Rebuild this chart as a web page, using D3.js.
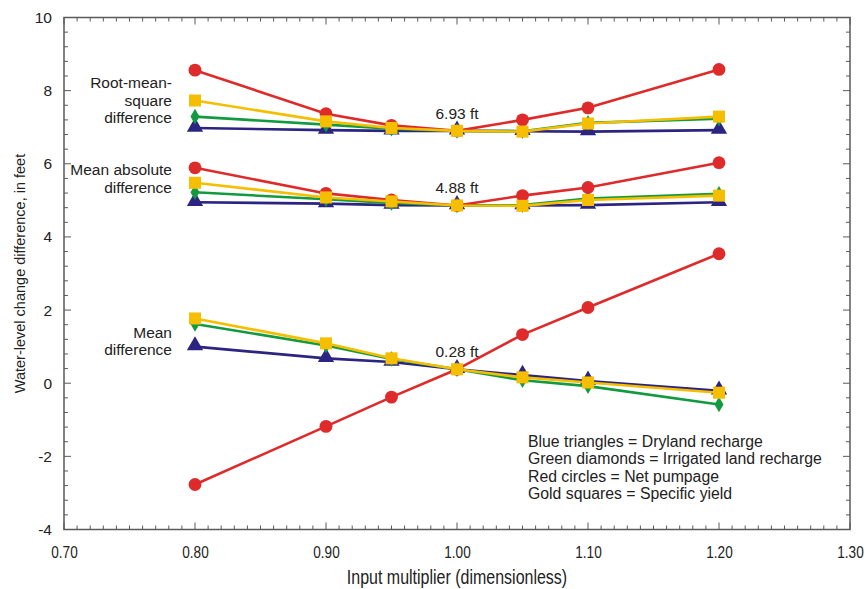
<!DOCTYPE html>
<html>
<head>
<meta charset="utf-8">
<script src="https://cdn.jsdelivr.net/npm/d3@7"></script>
<style>
	body{margin:0;background:#fff;}
	svg{display:block;font-family:"Liberation Sans", Arial, sans-serif;}
</style>
</head>
<body>
<svg id="chart" width="866" height="589"></svg>
<script>
//input multipliers (x values)
var multipliers = [0.80, 0.90, 0.95, 1.00, 1.05, 1.10, 1.20];

//root-mean-square difference
var rmsDryland   = [6.98, 6.92, 6.90, 6.90, 6.89, 6.88, 6.92];
var rmsIrrigated = [7.29, 7.07, 6.96, 6.90, 6.89, 7.12, 7.23];
var rmsPumpage   = [8.56, 7.37, 7.05, 6.90, 7.20, 7.53, 8.58];
var rmsYield     = [7.73, 7.16, 6.98, 6.90, 6.88, 7.10, 7.29];

//mean absolute difference
var madDryland   = [4.95, 4.91, 4.87, 4.86, 4.86, 4.87, 4.95];
var madIrrigated = [5.22, 5.03, 4.93, 4.86, 4.87, 5.05, 5.18];
var madPumpage   = [5.89, 5.19, 5.01, 4.86, 5.13, 5.35, 6.03];
var madYield     = [5.48, 5.08, 4.97, 4.86, 4.85, 5.01, 5.13];

//mean difference
var meanDryland   = [1.00, 0.68, 0.58, 0.38, 0.22, 0.06, -0.21];
var meanIrrigated = [1.62, 1.03, 0.66, 0.38, 0.08, -0.08, -0.58];
var meanPumpage   = [-2.77, -1.18, -0.38, 0.38, 1.33, 2.07, 3.54];
var meanYield     = [1.77, 1.09, 0.68, 0.38, 0.16, 0.02, -0.26];

var xTicks = [0.70, 0.80, 0.90, 1.00, 1.10, 1.20, 1.30];
var yTicks = [-4, -2, 0, 2, 4, 6, 8, 10];

var legendLines = [
	"Blue triangles = Dryland recharge",
	"Green diamonds = Irrigated land recharge",
	"Red circles = Net pumpage",
	"Gold squares = Specific yield"
];

var groupLabels = [
	{lines: ["Root-mean-", "square", "difference"], y: 8.06, value: "6.93 ft", at: 6.90},
	{lines: ["Mean absolute", "difference"], y: 5.68, value: "4.88 ft", at: 4.86},
	{lines: ["Mean", "difference"], y: 1.25, value: "0.28 ft", at: 0.38}
];

var svg = d3.select("#chart");

//"top" is taken by window.top, so prefix these
var plotLeft = 64, plotTop = 17.5, plotRight = 850, plotBottom = 529.5;

var xScale = d3.scaleLinear()
.domain([0.70, 1.30])
.range([plotLeft, plotRight]);

var yScale = d3.scaleLinear()
.domain([-4, 10])
.range([plotBottom, plotTop]);

var frameColor = "#5a5a5a";

//minor + major ticks, drawn inward on all four sides
var xMinor = d3.range(70, 131).map(function(d){ return d / 100; });
var yMinor = d3.range(-10, 26).map(function(d){ return d * 0.4; });

var ticks = svg.append("g")
.attr("stroke", frameColor)
.attr("stroke-width", 1);

ticks.selectAll(".xb")
.data(xMinor)
.enter()
.append("line")
.attr("x1", function(d){ return xScale(d); })
.attr("x2", function(d){ return xScale(d); })
.attr("y1", plotBottom)
.attr("y2", function(d, i){ return plotBottom - (i % 10 === 0 ? 7 : 4); });

ticks.selectAll(".xt")
.data(xMinor)
.enter()
.append("line")
.attr("x1", function(d){ return xScale(d); })
.attr("x2", function(d){ return xScale(d); })
.attr("y1", plotTop)
.attr("y2", function(d, i){ return plotTop + (i % 10 === 0 ? 7 : 4); });

ticks.selectAll(".yl")
.data(yMinor)
.enter()
.append("line")
.attr("y1", function(d){ return yScale(d); })
.attr("y2", function(d){ return yScale(d); })
.attr("x1", plotLeft)
.attr("x2", function(d, i){ return plotLeft + (i % 5 === 0 ? 7 : 4); });

ticks.selectAll(".yr")
.data(yMinor)
.enter()
.append("line")
.attr("y1", function(d){ return yScale(d); })
.attr("y2", function(d){ return yScale(d); })
.attr("x1", plotRight)
.attr("x2", function(d, i){ return plotRight - (i % 5 === 0 ? 7 : 4); });

//frame
svg.append("rect")
.attr("x", plotLeft)
.attr("y", plotTop)
.attr("width", plotRight - plotLeft)
.attr("height", plotBottom - plotTop)
.attr("fill", "none")
.attr("stroke", frameColor)
.attr("stroke-width", 1.5);

//tick labels through d3 axes, tick lines hidden
var xAxis = d3.axisBottom(xScale)
.tickValues(xTicks)
.tickSize(0)
.tickPadding(0)
.tickFormat(d3.format(".2f"));

var xAxisG = svg.append("g")
.attr("transform", "translate(0," + plotBottom + ")")
.call(xAxis);
xAxisG.select(".domain").remove();
//the original labels are condensed, squeeze them horizontally
xAxisG.selectAll("text")
.attr("dy", null)
.attr("y", 0)
.attr("transform", "translate(0,28) scale(0.8,1)")
.attr("font-size", 17)
.attr("font-family", "Liberation Sans, Arial, sans-serif")
.attr("fill", "#222");

var yAxis = d3.axisLeft(yScale)
.tickValues(yTicks)
.tickSize(0)
.tickPadding(12)
.tickFormat(function(d){ return String(d); }); //plain hyphen like the original

var yAxisG = svg.append("g")
.attr("transform", "translate(" + plotLeft + ",0)")
.call(yAxis);
yAxisG.select(".domain").remove();
yAxisG.selectAll("text")
.attr("font-size", 15.5)
.attr("fill", "#222")
.attr("font-family", "Liberation Sans, Arial, sans-serif");

//axis titles
svg.append("text")
.attr("transform", "translate(" + (plotLeft + plotRight) / 2 + ",584) scale(0.82,1)")
.attr("text-anchor", "middle")
.attr("font-size", 19.5)
.attr("fill", "#222")
.text("Input multiplier (dimensionless)");

svg.append("text")
.attr("transform", "translate(25," + (plotTop + plotBottom) / 2 + ") rotate(-90)")
.attr("text-anchor", "middle")
.attr("font-size", 14.5)
.attr("fill", "#222")
.text("Water-level change difference, in feet");

//series styling
var blue = "#2b2481", green = "#119a3f", red = "#de2a2a", gold = "#f5be00";

var seriesList = [
	{values: rmsDryland, color: blue, shape: d3.symbolTriangle, size: 115},
	{values: rmsIrrigated, color: green, shape: d3.symbolDiamond, size: 70},
	{values: rmsPumpage, color: red, shape: d3.symbolCircle, size: 130},
	{values: rmsYield, color: gold, shape: d3.symbolSquare, size: 145},
	{values: madDryland, color: blue, shape: d3.symbolTriangle, size: 115},
	{values: madIrrigated, color: green, shape: d3.symbolDiamond, size: 70},
	{values: madPumpage, color: red, shape: d3.symbolCircle, size: 130},
	{values: madYield, color: gold, shape: d3.symbolSquare, size: 145},
	{values: meanDryland, color: blue, shape: d3.symbolTriangle, size: 115},
	{values: meanIrrigated, color: green, shape: d3.symbolDiamond, size: 70},
	{values: meanPumpage, color: red, shape: d3.symbolCircle, size: 130},
	{values: meanYield, color: gold, shape: d3.symbolSquare, size: 145}
];

var line = d3.line()
.x(function(d){ return xScale(d[0]); })
.y(function(d){ return yScale(d[1]); });

seriesList.forEach(function(s){
	var pts = multipliers.map(function(m, i){ return [m, s.values[i]]; });

	svg.append("path")
	.datum(pts)
	.attr("d", line)
	.attr("fill", "none")
	.attr("stroke", s.color)
	.attr("stroke-width", 2.6);

	svg.append("g")
	.selectAll("path")
	.data(pts)
	.enter()
	.append("path")
	.attr("d", d3.symbol().type(s.shape).size(s.size))
	.attr("transform", function(d){
		//nudge triangles so the base sits on the line like the original
		var dy = s.shape === d3.symbolTriangle ? -1 : 0;
		return "translate(" + xScale(d[0]) + "," + (yScale(d[1]) + dy) + ")";
	})
	.attr("fill", s.color);
});

//group labels at left, value labels at 1.00
groupLabels.forEach(function(g){
	var t = svg.append("text")
	.attr("text-anchor", "end")
	.attr("font-size", 15.5)
	.attr("fill", "#222");

	g.lines.forEach(function(l, i){
		t.append("tspan")
		.attr("x", 172)
		.attr("y", yScale(g.y) + i * 17.5)
		.text(l);
	});

	svg.append("text")
	.attr("x", xScale(1.00))
	.attr("y", yScale(g.at) - 12)
	.attr("text-anchor", "middle")
	.attr("font-size", 15.5)
	.attr("fill", "#222")
	.text(g.value);
});

//legend text block
svg.append("g")
.selectAll("text")
.data(legendLines)
.enter()
.append("text")
.attr("x", 528)
.attr("y", function(d, i){ return 446.5 + i * 17.5; })
.attr("font-size", 15.8)
.attr("fill", "#222")
.text(function(d){ return d; });
</script>
</body>
</html>
